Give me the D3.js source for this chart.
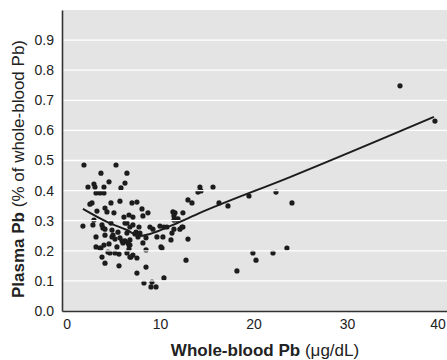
<!DOCTYPE html>
<html>
<head>
<meta charset="utf-8">
<script src="https://cdn.jsdelivr.net/npm/d3@7"></script>
<style>
  body { margin: 0; background: #fff; }
  text { font-family: "Liberation Sans Narrow", "Liberation Sans", sans-serif; }
</style>
</head>
<body>
<div id="chart"></div>
<script>
var canvasWidth = 447;
var canvasHeight = 360;

/*Scatter data: whole-blood Pb (ug/dL) and plasma Pb (fraction of whole-blood Pb)*/
var bloodPb = [1.85, 5.28, 3.67, 6.45, 2.28, 2.92, 3.03, 3.99, 4.53, 6.24, 5.81, 3.14, 3.99, 5.70, 2.71,
  4.74, 3.24, 4.10, 4.31, 5.06, 6.13, 6.67, 2.92, 1.74, 6.45, 2.81, 3.78, 3.88, 4.74, 7.09,
  6.99, 7.52, 8.06, 8.70, 8.16, 7.09, 7.74, 7.42, 7.84, 8.91, 9.23, 9.98, 9.66, 10.41, 10.73,
  11.27, 11.59, 11.48, 11.80, 12.44, 12.34, 12.98, 13.41, 14.05, 12.98, 12.77, 3.67, 3.78, 4.42, 4.63,
  5.60, 5.38, 6.67, 6.88, 7.09, 4.10, 5.60, 3.14, 3.56, 6.77, 5.70, 6.24, 6.02, 6.56, 7.52,
  8.49, 7.52, 8.49, 8.27, 9.13, 9.02, 9.56, 10.41, 4.96, 4.85, 5.49, 11.37, 11.48, 11.91, 11.48,
  12.12, 12.44, 11.16, 10.09, 10.20, 10.30, 8.49, 8.16, 6.77, 6.45, 7.31, 7.63, 14.26, 15.66, 16.30,
  17.26, 19.51, 22.40, 24.11, 19.93, 20.26, 22.08, 23.57, 18.22, 35.67, 39.41, 3.14, 4.10, 4.85, 5.17,
  5.92, 6.67, 3.99, 4.53, 5.17, 6.45, 6.77, 2.49, 3.56, 6.24, 6.77, 14.37, 4.10];
var plasmaPb = [0.485, 0.485, 0.458, 0.458, 0.412, 0.422, 0.412, 0.412, 0.429, 0.425, 0.409, 0.392, 0.392, 0.365, 0.359,
  0.359, 0.332, 0.342, 0.329, 0.326, 0.312, 0.319, 0.302, 0.282, 0.292, 0.286, 0.286, 0.276, 0.292, 0.286,
  0.359, 0.362, 0.339, 0.326, 0.316, 0.312, 0.279, 0.262, 0.259, 0.279, 0.272, 0.282, 0.246, 0.279, 0.279,
  0.259, 0.326, 0.302, 0.302, 0.326, 0.279, 0.369, 0.359, 0.395, 0.239, 0.169, 0.209, 0.179, 0.196, 0.193,
  0.189, 0.213, 0.206, 0.179, 0.186, 0.159, 0.150, 0.213, 0.209, 0.236, 0.243, 0.233, 0.226, 0.226, 0.176,
  0.203, 0.126, 0.146, 0.093, 0.096, 0.080, 0.080, 0.110, 0.252, 0.269, 0.262, 0.329, 0.316, 0.306, 0.272,
  0.272, 0.279, 0.236, 0.213, 0.209, 0.246, 0.243, 0.226, 0.219, 0.259, 0.256, 0.246, 0.412, 0.412, 0.359,
  0.349, 0.382, 0.395, 0.359, 0.193, 0.169, 0.193, 0.209, 0.133, 0.748, 0.631, 0.246, 0.252, 0.246, 0.239,
  0.233, 0.219, 0.219, 0.223, 0.193, 0.193, 0.179, 0.355, 0.392, 0.292, 0.279, 0.399, 0.272];

/*Smoothed trend line*/
var fitX = [1.74, 4.31, 6.45, 7.84, 8.91, 11.37, 14.26, 23.9, 39.3];
var fitY = [0.339, 0.296, 0.269, 0.249, 0.256, 0.286, 0.326, 0.445, 0.645];

/*Tick labels*/
var xTicks = [0, 10, 20, 30, 40];
var yTicks = [0.0, 0.1, 0.2, 0.3, 0.4, 0.5, 0.6, 0.7, 0.8, 0.9];

var points = bloodPb.map(function (d, i) { return {x: d, y: plasmaPb[i]}; });
var fit = fitX.map(function (d, i) { return {x: d, y: fitY[i]}; });

var svg = d3.select("#chart").append("svg")
    .attr("width", canvasWidth)
    .attr("height", canvasHeight);

var xScale = d3.scaleLinear().domain([-0.5, 40.7]).range([62, 447]);
var yScale = d3.scaleLinear().domain([0, 1]).range([311, 10]);

/*Plot background*/
svg.append("rect")
    .attr("x", 62).attr("y", 10)
    .attr("width", 447 - 62).attr("height", 311 - 10)
    .attr("fill", "#e4e4e4");

/*Dots*/
svg.append("g").selectAll("circle")
    .data(points)
    .join("circle")
    .attr("cx", function (d) { return xScale(d.x); })
    .attr("cy", function (d) { return yScale(d.y); })
    .attr("r", 2.6)
    .attr("fill", "#1c1c1c");

/*Gridlines drawn over the dots*/
svg.append("g").selectAll("line")
    .data(yTicks.filter(function (d) { return d > 0; }))
    .join("line")
    .attr("x1", 62).attr("x2", 447)
    .attr("y1", function (d) { return yScale(d); })
    .attr("y2", function (d) { return yScale(d); })
    .attr("stroke", "#fff")
    .attr("stroke-width", 1.3);

/*Trend line*/
svg.append("path")
    .datum(fit)
    .attr("fill", "none")
    .attr("stroke", "#1c1c1c")
    .attr("stroke-width", 2)
    .attr("d", d3.line()
        .x(function (d) { return xScale(d.x); })
        .y(function (d) { return yScale(d.y); })
        .curve(d3.curveMonotoneX));

/*Y axis*/
var yAxis = svg.append("g")
    .attr("transform", "translate(62,0)")
    .call(d3.axisLeft(yScale).tickValues(yTicks).tickSize(0).tickPadding(8).tickFormat(d3.format(".1f")));
yAxis.select(".domain").attr("stroke", "#333").attr("stroke-width", 1.6);
yAxis.selectAll("text").style("font-size", "14px").attr("fill", "#222");

/*X axis*/
var xAxis = svg.append("g")
    .attr("transform", "translate(0,311)")
    .call(d3.axisBottom(xScale).tickValues(xTicks).tickSize(0).tickPadding(8));
xAxis.select(".domain").attr("stroke", "#333").attr("stroke-width", 1.6);
xAxis.selectAll("text").style("font-size", "14px").attr("fill", "#222");
/*keep the last label inside the window*/
xAxis.selectAll(".tick").filter(function (d) { return d === 40; }).select("text")
    .attr("text-anchor", "end").attr("dx", "0.35em");

/*Axis titles*/
var yTitle = svg.append("text")
    .attr("transform", "translate(24,169) rotate(-90)")
    .attr("text-anchor", "middle")
    .attr("fill", "#222")
    .style("font-size", "17px");
yTitle.append("tspan").attr("font-weight", "bold").text("Plasma Pb");
yTitle.append("tspan").text(" (% of whole-blood Pb)");

var xTitle = svg.append("text")
    .attr("x", 265).attr("y", 356)
    .attr("text-anchor", "middle")
    .attr("fill", "#222")
    .style("font-size", "17px");
xTitle.append("tspan").attr("font-weight", "bold").text("Whole-blood Pb");
xTitle.append("tspan").text(" (\u03bcg/dL)");
</script>
</body>
</html>
